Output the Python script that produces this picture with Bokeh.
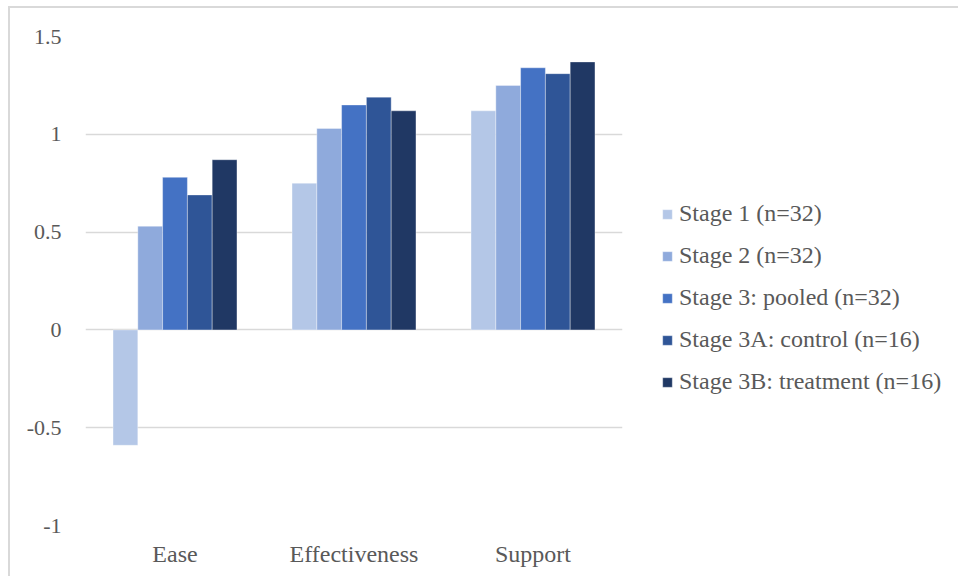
from bokeh.plotting import figure
from bokeh.models import ColumnDataSource, FactorRange, Range1d, FixedTicker, Legend, LegendItem
from bokeh.transform import dodge
from bokeh.embed import file_html
from bokeh.resources import INLINE

categories = ["Ease", "Effectiveness", "Support"]
series_names = ["Stage 1 (n=32)", "Stage 2 (n=32)", "Stage 3: pooled (n=32)",
                "Stage 3A: control (n=16)", "Stage 3B: treatment (n=16)"]
stage1 = [-0.59, 0.75, 1.12]
stage2 = [0.53, 1.03, 1.25]
stage3_pooled = [0.78, 1.15, 1.34]
stage3a_control = [0.69, 1.19, 1.31]
stage3b_treatment = [0.87, 1.12, 1.37]
colors = ["#B4C7E7", "#8FAADC", "#4472C4", "#2F5597", "#203864"]
y_ticks = [-1, -0.5, 0, 0.5, 1, 1.5]
y_tick_labels = ["-1", "-0.5", "0", "0.5", "1", "1.5"]

all_series = [stage1, stage2, stage3_pooled, stage3a_control, stage3b_treatment]
data = {"cat": categories}
for i, s in enumerate(all_series):
    data["s%d" % i] = s
source = ColumnDataSource(data)

FONT = "Liberation Serif"
TXT = "#595959"

p = figure(x_range=FactorRange(*categories), y_range=Range1d(-1, 1.5),
           frame_width=537, frame_height=489, output_backend="svg", toolbar_location=None,
           min_border_left=75, min_border_right=0, min_border_top=28, min_border_bottom=51,
           outline_line_color=None)
p.styles = {"border-top": "2px solid #D9D9D9", "border-left": "2px solid #D9D9D9",
            "margin-left": "8px", "margin-top": "6px"}

bw = 0.1385
offsets = [-2 * bw, -bw, 0, bw, 2 * bw]
items = []
for i in range(5):
    r = p.vbar(x=dodge("cat", offsets[i], range=p.x_range), top="s%d" % i, bottom=0,
               width=bw, source=source, fill_color=colors[i],
               line_color="#FFFFFF", line_width=0.6, line_alpha=0.6)
    items.append(LegendItem(label=series_names[i], renderers=[r]))

p.xgrid.grid_line_color = None
p.ygrid.grid_line_color = "#D9D9D9"
p.ygrid.grid_line_width = 1.5
p.yaxis.ticker = FixedTicker(ticks=y_ticks)
p.yaxis.major_label_overrides = {t: l for t, l in zip(y_ticks, y_tick_labels)}

for ax in (p.xaxis[0], p.yaxis[0]):
    ax.axis_line_color = None
    ax.major_tick_line_color = None
    ax.minor_tick_line_color = None
    ax.major_label_text_font = FONT
    ax.major_label_text_color = TXT
p.yaxis.major_label_text_font_size = "22px"
p.xaxis.major_label_text_font_size = "24px"
p.yaxis.major_label_standoff = 18
p.xaxis.major_label_standoff = 9

legend = Legend(items=items, location=(39, 130), orientation="vertical",
                glyph_width=12, glyph_height=12, label_standoff=6, spacing=15,
                padding=0, margin=0, border_line_color=None, background_fill_alpha=0,
                label_text_font=FONT, label_text_font_size="24px", label_text_color=TXT,
                label_height=24)
p.add_layout(legend, "right")

open("out.html", "w").write(file_html(p, INLINE))
